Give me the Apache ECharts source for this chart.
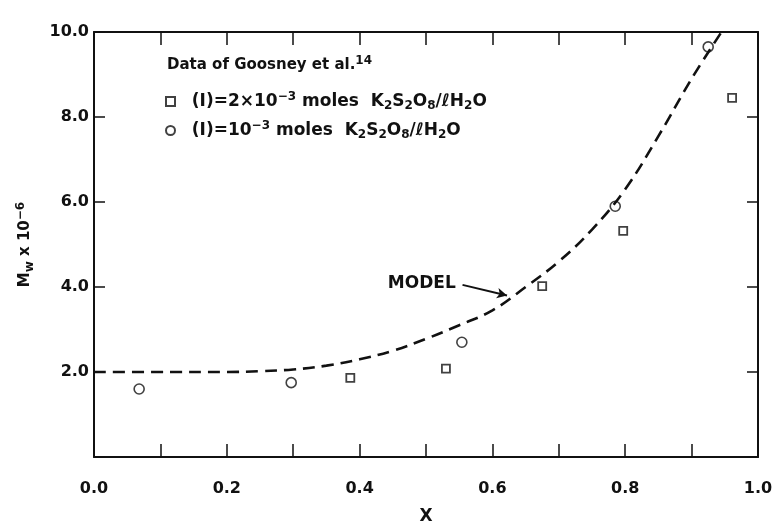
<!DOCTYPE html>
<html>
<head>
<meta charset="utf-8">
<script src="https://cdn.jsdelivr.net/npm/echarts@6/dist/echarts.min.js"></script>
<style>
  html, body { margin: 0; padding: 0; background: #fff; }
  #chart { width: 774px; height: 525px; }
</style>
</head>
<body>
<div id="chart"></div>
<script>
// data
var squareX = [0.386, 0.53, 0.675, 0.797, 0.961];
var squareY = [1.86, 2.08, 4.02, 5.32, 8.45];
var circleX = [0.068, 0.297, 0.554, 0.785, 0.925];
var circleY = [1.6, 1.75, 2.7, 5.9, 9.65];
var modelX = [0.0, 0.1, 0.2, 0.25, 0.3, 0.35, 0.4, 0.45, 0.5, 0.55, 0.6, 0.65, 0.7, 0.75, 0.8, 0.85, 0.9, 0.945];
var modelY = [2.0, 2.0, 2.0, 2.02, 2.06, 2.15, 2.3, 2.5, 2.78, 3.1, 3.45, 4.0, 4.6, 5.35, 6.3, 7.55, 8.9, 10.0];
var xTicks = [0.0, 0.2, 0.4, 0.6, 0.8, 1.0];
var yTicks = [2.0, 4.0, 6.0, 8.0, 10.0];

function pairs(xs, ys) {
  return xs.map(function (x, i) { return [x, ys[i]]; });
}

var font = '"DejaVu Sans", sans-serif';
var ink = '#111';
var sub = { fontSize: 12, fontWeight: 'bold', fontFamily: font, color: ink, verticalAlign: 'bottom', padding: [7, 0, 0, 0] };
var sup = { fontSize: 12, fontWeight: 'bold', fontFamily: font, color: ink, verticalAlign: 'top', padding: [0, 0, 9, 0] };

var chart = echarts.init(document.getElementById('chart'));

chart.setOption({
  animation: false,
  backgroundColor: '#fff',
  title: {
    text: 'Data of Goosney et al.{sup|14}',
    left: 162,
    top: 50,
    textStyle: {
      fontFamily: font, fontWeight: 'bold', fontSize: 15, color: ink,
      rich: { sup: sup }
    }
  },
  legend: {
    orient: 'vertical',
    left: 160,
    top: 86,
    itemWidth: 9,
    itemHeight: 9,
    itemGap: 8,
    data: ['sq', 'ci'],
    formatter: function (name) {
      if (name === 'sq') {
        return '  (I)=2×10{sup|−3} moles  K{sub|2}S{sub|2}O{sub|8}/ℓH{sub|2}O';
      }
      return '  (I)=10{sup|−3} moles  K{sub|2}S{sub|2}O{sub|8}/ℓH{sub|2}O';
    },
    textStyle: {
      fontFamily: font, fontWeight: 'bold', fontSize: 17, color: ink,
      rich: { sub: sub, sup: sup }
    }
  },
  grid: { left: 94, right: 16, top: 32, bottom: 68, outerBoundsMode: 'none' },
  xAxis: [
    {
      type: 'value', min: 0, max: 1, interval: 0.1,
      name: 'X', nameLocation: 'middle', nameGap: 51,
      nameTextStyle: { fontFamily: font, fontWeight: 'bold', fontSize: 17, color: ink },
      axisLine: { lineStyle: { color: ink, width: 2 } },
      axisTick: { inside: true, length: 13, lineStyle: { color: ink, width: 1.5 } },
      splitLine: { show: false },
      axisLabel: {
        margin: 24, fontFamily: font, fontWeight: 'bold', fontSize: 16, color: ink,
        formatter: function (v) {
          var k = xTicks.filter(function (t) { return Math.abs(t - v) < 1e-6; });
          return k.length ? k[0].toFixed(1) : '';
        }
      }
    },
    {
      type: 'value', min: 0, max: 1, interval: 0.1, position: 'top',
      axisLine: { show: true, onZero: false, lineStyle: { color: ink, width: 2 } },
      axisTick: { show: true, inside: true, length: 13, lineStyle: { color: ink, width: 1.5 } },
      axisLabel: { show: false },
      splitLine: { show: false }
    }
  ],
  yAxis: [
    {
      type: 'value', min: 0, max: 10, interval: 2,
      name: 'M{sub|w} x 10{sup|−6}', nameLocation: 'middle', nameGap: 58, nameRotate: 90,
      nameTextStyle: {
        fontFamily: font, fontWeight: 'bold', fontSize: 15, color: ink,
        rich: { sub: sub, sup: sup }
      },
      axisLine: { show: true, lineStyle: { color: ink, width: 2 } },
      axisTick: { inside: true, length: 11, lineStyle: { color: ink, width: 1.5 } },
      splitLine: { show: false },
      axisLabel: {
        margin: 5, fontFamily: font, fontWeight: 'bold', fontSize: 16, color: ink,
        formatter: function (v) {
          return yTicks.indexOf(v) >= 0 ? v.toFixed(1) : '';
        }
      }
    },
    {
      type: 'value', min: 0, max: 10, interval: 2, position: 'right',
      axisLine: { show: true, onZero: false, lineStyle: { color: ink, width: 2 } },
      axisTick: { show: true, inside: true, length: 11, lineStyle: { color: ink, width: 1.5 } },
      axisLabel: { show: false },
      splitLine: { show: false }
    }
  ],
  series: [
    {
      name: 'model',
      type: 'line',
      data: pairs(modelX, modelY),
      smooth: 0.4,
      showSymbol: false,
      lineStyle: { color: ink, width: 2.6, type: [12, 7] },
      markLine: {
        silent: true,
        symbol: ['none', 'arrow'],
        symbolSize: [8, 10],
        lineStyle: { color: ink, width: 2, type: 'solid', curveness: -0.25 },
        label: {
          show: true, position: 'start', distance: 7, formatter: 'MODEL',
          fontFamily: font, fontWeight: 'bold', fontSize: 17, color: ink
        },
        data: [[{ coord: [0.555, 4.05] }, { coord: [0.622, 3.8] }]]
      }
    },
    {
      name: 'sq',
      type: 'scatter',
      data: pairs(squareX, squareY),
      symbol: 'rect',
      symbolSize: 8,
      itemStyle: { color: '#fff', borderColor: ink, borderWidth: 1.8 }
    },
    {
      name: 'ci',
      type: 'scatter',
      data: pairs(circleX, circleY),
      symbol: 'circle',
      symbolSize: 10,
      itemStyle: { color: '#fff', borderColor: ink, borderWidth: 1.6 }
    }
  ]
});
</script>
</body>
</html>
